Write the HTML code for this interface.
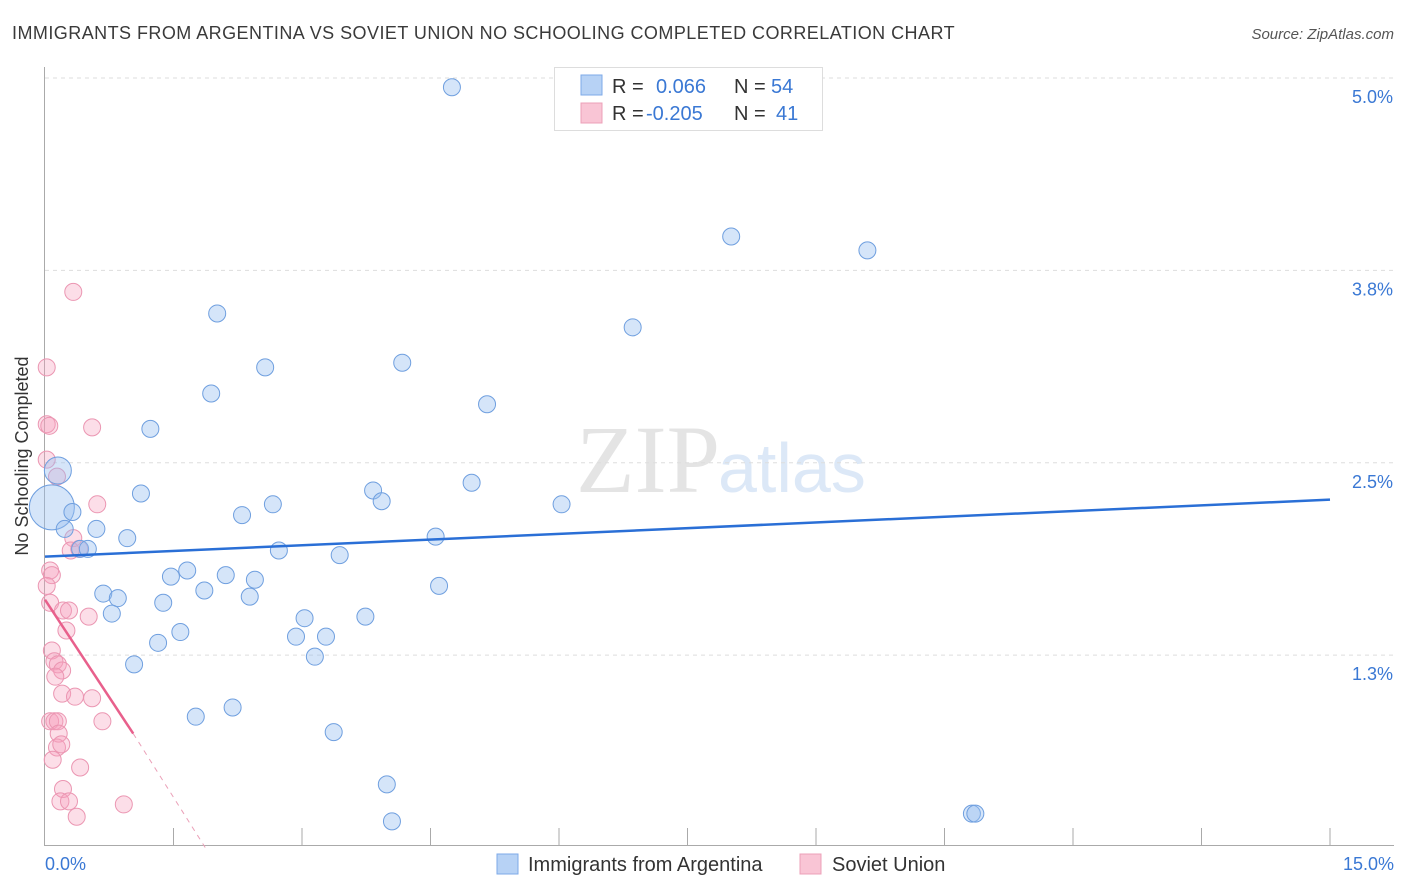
<!DOCTYPE html>
<html><head><meta charset="utf-8"><style>
body{margin:0;background:#fff;font-family:"Liberation Sans",sans-serif;}
svg{display:block}
</style></head><body>
<svg id="chart" width="1406" height="892" xmlns="http://www.w3.org/2000/svg">
<text x="12" y="39" font-size="18" fill="#3a3a3a" letter-spacing="0.45">IMMIGRANTS FROM ARGENTINA VS SOVIET UNION NO SCHOOLING COMPLETED CORRELATION CHART</text>
<text x="1394" y="39" font-size="15" fill="#555" font-style="italic" text-anchor="end">Source: ZipAtlas.com</text>
<text x="720" y="492" font-size="96" fill="#e4e4e4" font-family="Liberation Serif,serif" text-anchor="end">ZIP</text>
<text x="718" y="492" font-size="70" fill="#dce8f7">atlas</text>
<g id="grid"></g>
<g id="axes"></g>
<g id="marks"></g>
<text x="28" y="456" font-size="18" fill="#333" transform="rotate(-90 28 456)" text-anchor="middle">No Schooling Completed</text>
<g>
<rect x="554.5" y="67.5" width="268" height="63" fill="#fff" stroke="#ddd"/>
<rect x="581" y="75" width="21" height="20" fill="#b7d2f5" stroke="#7eaae8"/>
<rect x="581" y="103" width="21" height="20" fill="#f9c5d5" stroke="#eca0b8"/>
<text x="612" y="93" font-size="20" fill="#333">R =</text>
<text x="656" y="93" font-size="20" fill="#3a78d4">0.066</text>
<text x="734" y="93" font-size="20" fill="#333">N =</text>
<text x="771" y="93" font-size="20" fill="#3a78d4">54</text>
<text x="612" y="120" font-size="20" fill="#333">R =</text>
<text x="646" y="120" font-size="20" fill="#3a78d4">-0.205</text>
<text x="734" y="120" font-size="20" fill="#333">N =</text>
<text x="776" y="120" font-size="20" fill="#3a78d4">41</text>
</g>
<g>
<rect x="497" y="854" width="21" height="20" fill="#b7d2f5" stroke="#7eaae8"/>
<text x="528" y="871" font-size="20" fill="#333">Immigrants from Argentina</text>
<rect x="800" y="854" width="21" height="20" fill="#f9c5d5" stroke="#eca0b8"/>
<text x="832" y="871" font-size="20" fill="#333">Soviet Union</text>
</g>
</svg>
<script>
const yTicks=[5.0,3.75,2.5,1.25];
const yTickLabels=["5.0%","3.8%","2.5%","1.3%"];
const xTickCount=10;
const xMin=0,xMax=15;
const blueX=[4.75,8.01,9.60,2.01,6.86,2.57,4.17,1.94,5.16,1.23,0.15,0.08,0.32,1.12,3.83,3.93,4.98,6.03,2.66,2.30,0.23,0.60,0.96,4.56,0.41,0.50,2.73,3.44,1.66,1.47,2.11,2.45,4.60,1.86,0.68,0.85,2.39,1.38,0.78,3.03,3.74,1.58,2.93,3.28,1.32,3.15,1.04,2.19,1.76,3.37,3.99,4.05,10.82,10.86];
const blueY=[4.94,3.97,3.88,3.47,3.38,3.12,3.15,2.95,2.88,2.72,2.45,2.21,2.18,2.30,2.32,2.25,2.37,2.23,2.23,2.16,2.07,2.07,2.01,2.02,1.94,1.94,1.93,1.90,1.80,1.76,1.77,1.74,1.70,1.67,1.65,1.62,1.63,1.59,1.52,1.49,1.50,1.40,1.37,1.37,1.33,1.24,1.19,0.91,0.85,0.75,0.41,0.17,0.22,0.22];
const blueR=[8.5,8.5,8.5,8.5,8.5,8.5,8.5,8.5,8.5,8.5,13.5,22.5,8.5,8.5,8.5,8.5,8.5,8.5,8.5,8.5,8.5,8.5,8.5,8.5,8.5,8.5,8.5,8.5,8.5,8.5,8.5,8.5,8.5,8.5,8.5,8.5,8.5,8.5,8.5,8.5,8.5,8.5,8.5,8.5,8.5,8.5,8.5,8.5,8.5,8.5,8.5,8.5,8.5,8.5];
const pinkX=[0.33,0.02,0.02,0.05,0.55,0.02,0.14,0.61,0.33,0.30,0.40,0.06,0.08,0.02,0.06,0.21,0.28,0.51,0.25,0.08,0.11,0.15,0.20,0.12,0.20,0.35,0.55,0.06,0.11,0.15,0.67,0.16,0.14,0.19,0.09,0.41,0.21,0.18,0.28,0.92,0.37];
const pinkY=[3.61,3.12,2.75,2.74,2.73,2.52,2.41,2.23,2.01,1.93,1.94,1.80,1.77,1.70,1.59,1.54,1.54,1.50,1.41,1.28,1.21,1.19,1.15,1.11,1.00,0.98,0.97,0.82,0.82,0.82,0.82,0.74,0.65,0.67,0.57,0.52,0.38,0.30,0.30,0.28,0.20];
const blueTrend=[[0,1.89],[15,2.26]];
const pinkTrend=[[0,1.61],[1.03,0.74]];
const pinkTrendExt=[[1.03,0.74],[1.87,0]];
const X=v=>45+(v-xMin)/(xMax-xMin)*1285;
const Y=v=>78+(5-v)*153.9;
const NS="http://www.w3.org/2000/svg";
function mk(p,t,a){const e=document.createElementNS(NS,t);for(const k in a)e.setAttribute(k,a[k]);p.appendChild(e);return e;}
const grid=document.getElementById('grid'),axes=document.getElementById('axes'),marks=document.getElementById('marks');
yTicks.forEach((t,i)=>{
 const l=mk(grid,'line',{x1:45,x2:1394,y1:Y(t),y2:Y(t),stroke:'#ddd','stroke-dasharray':'4 4'});
 
 
 const tx=mk(axes,'text',{x:1393,y:Y(t)+25,'font-size':18,fill:'#3a78d4','text-anchor':'end'});
 tx.textContent=yTickLabels[i];
 
 
});
const ya=mk(axes,'line',{x1:44.5,x2:44.5,y1:67,y2:846,stroke:'#aaa'});


const xa=mk(axes,'line',{x1:44,x2:1394,y1:845.5,y2:845.5,stroke:'#aaa'});


for(let i=1;i<=xTickCount;i++){
 const v=xMin+i*(xMax-xMin)/xTickCount;
 const t=mk(axes,'line',{x1:X(v),x2:X(v),y1:828,y2:846,stroke:'#aaa'});
 
 
}
const xl0=mk(axes,'text',{x:45,y:870,'font-size':18,fill:'#3a78d4'});xl0.textContent=xMin.toFixed(1)+'%';


const xl1=mk(axes,'text',{x:1394,y:870,'font-size':18,fill:'#3a78d4','text-anchor':'end'});xl1.textContent=xMax.toFixed(1)+'%';


pinkX.forEach((x,i)=>{
 const c=mk(marks,'circle',{cx:X(x),cy:Y(pinkY[i]),r:8.5,fill:'rgba(245,160,188,0.35)',stroke:'#eb96b2','stroke-width':1});
 
 
});
blueX.forEach((x,i)=>{
 const c=mk(marks,'circle',{cx:X(x),cy:Y(blueY[i]),r:blueR[i],fill:'rgba(150,190,240,0.4)',stroke:'#6f9fdf','stroke-width':1});
 
 
});
const bt=mk(marks,'line',{x1:X(blueTrend[0][0]),y1:Y(blueTrend[0][1]),x2:X(blueTrend[1][0]),y2:Y(blueTrend[1][1]),stroke:'#2a6fd6','stroke-width':2.5});


const pt=mk(marks,'line',{x1:X(pinkTrend[0][0]),y1:Y(pinkTrend[0][1]),x2:X(pinkTrend[1][0]),y2:Y(pinkTrend[1][1]),stroke:'#e8608c','stroke-width':2.5});


const pe=mk(marks,'line',{x1:X(pinkTrendExt[0][0]),y1:Y(pinkTrendExt[0][1]),x2:X(pinkTrendExt[1][0]),y2:Y(pinkTrendExt[1][1]),stroke:'#eba0b8','stroke-width':1,'stroke-dasharray':'5 5'});


</script>
</body></html>
